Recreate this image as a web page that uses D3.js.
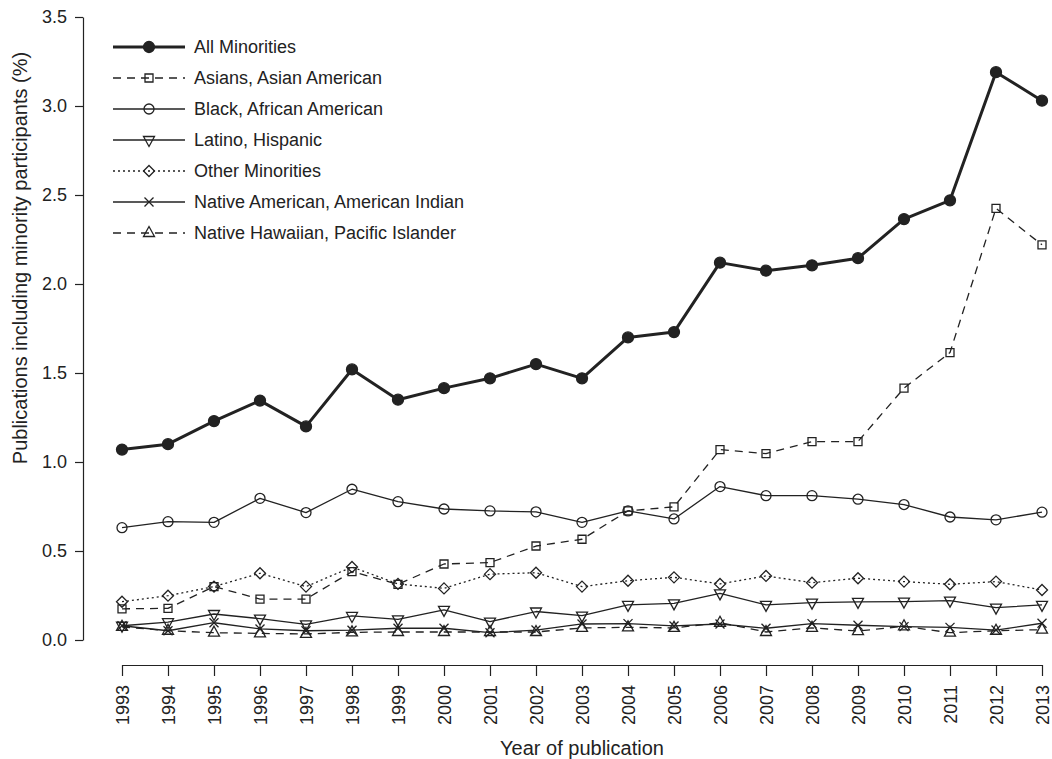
<!DOCTYPE html>
<html lang="en">
<head>
  <meta charset="UTF-8">
  <title>Minority participants in publications</title>
  <script src="https://d3js.org/d3.v7.min.js"></script>
  <style>
    body { margin: 0; background: #fff; }
    svg text { font-family: "Liberation Sans", Arial, Helvetica, sans-serif; fill: #222; }
  </style>
</head>
<body>
  <svg width="1052" height="759"></svg>

  <script>
    // Data (percent of publications)
    const years = [1993, 1994, 1995, 1996, 1997, 1998, 1999, 2000, 2001, 2002, 2003,
                   2004, 2005, 2006, 2007, 2008, 2009, 2010, 2011, 2012, 2013];

    const allMinorities = [1.07, 1.10, 1.23, 1.345, 1.20, 1.52, 1.35, 1.415, 1.47, 1.55, 1.47,
                           1.70, 1.73, 2.12, 2.075, 2.105, 2.145, 2.365, 2.47, 3.19, 3.03];
    const asians = [0.175, 0.178, 0.30, 0.23, 0.23, 0.384, 0.313, 0.427, 0.435, 0.528, 0.566,
                    0.725, 0.748, 1.07, 1.047, 1.115, 1.115, 1.415, 1.615, 2.425, 2.22];
    const black = [0.631, 0.665, 0.661, 0.796, 0.716, 0.847, 0.777, 0.736, 0.725, 0.72, 0.661,
                   0.725, 0.68, 0.862, 0.811, 0.811, 0.791, 0.761, 0.691, 0.675, 0.718];
    const latino = [0.08, 0.10, 0.146, 0.12, 0.088, 0.135, 0.116, 0.169, 0.103, 0.16, 0.137,
                    0.197, 0.206, 0.262, 0.197, 0.21, 0.214, 0.216, 0.221, 0.182, 0.197];
    const otherMinorities = [0.215, 0.249, 0.30, 0.375, 0.30, 0.41, 0.315, 0.29, 0.37, 0.378, 0.30,
                             0.333, 0.352, 0.315, 0.36, 0.322, 0.347, 0.328, 0.313, 0.328, 0.281];
    const nativeAmerican = [0.08, 0.052, 0.097, 0.062, 0.052, 0.055, 0.066, 0.066, 0.041, 0.056, 0.09,
                            0.092, 0.079, 0.09, 0.066, 0.092, 0.083, 0.075, 0.071, 0.056, 0.094];
    const nativeHawaiian = [0.074, 0.052, 0.041, 0.037, 0.034, 0.043, 0.045, 0.045, 0.045, 0.045, 0.068,
                            0.071, 0.068, 0.097, 0.045, 0.068, 0.05, 0.077, 0.041, 0.052, 0.058];

    const yTicks = [0, 0.5, 1.0, 1.5, 2.0, 2.5, 3.0, 3.5];

    const series = [
      { name: "All Minorities", values: allMinorities, shape: "dot", dash: null, width: 3 },
      { name: "Asians, Asian American", values: asians, shape: "square", dash: "8,6", width: 1.3 },
      { name: "Black, African American", values: black, shape: "circle", dash: null, width: 1.3 },
      { name: "Latino, Hispanic", values: latino, shape: "down", dash: null, width: 1.3 },
      { name: "Other Minorities", values: otherMinorities, shape: "diamond", dash: "2,3", width: 1.3 },
      { name: "Native American, American Indian", values: nativeAmerican, shape: "cross", dash: null, width: 1.3 },
      { name: "Native Hawaiian, Pacific Islander", values: nativeHawaiian, shape: "up", dash: "8,6", width: 1.3 }
    ];

    const ink = "#222";
    const svg = d3.select("svg");

    // Scales
    const xScale = d3.scaleLinear().domain([1993, 2013]).range([122, 1042]);
    const yScale = d3.scaleLinear().domain([0, 3.5]).range([640, 17]);

    // Y axis (R style, left offset)
    const yAxis = svg.append("g")
      .attr("transform", "translate(83,0)")
      .call(d3.axisLeft(yScale).tickValues(yTicks).tickFormat(d3.format(".1f"))
        .tickSize(8).tickSizeOuter(0).tickPadding(8));
    yAxis.selectAll("text").style("font-size", "18px");

    // X axis, labels rotated
    const xAxis = svg.append("g")
      .attr("transform", "translate(0,665)")
      .call(d3.axisBottom(xScale).tickValues(years).tickFormat(d3.format("d"))
        .tickSize(11).tickSizeOuter(0));
    xAxis.selectAll("text")
      .attr("y", 0).attr("x", -20).attr("dy", "0.35em")
      .attr("transform", "rotate(-90)")
      .style("text-anchor", "end")
      .style("font-size", "18px");

    svg.selectAll(".domain, .tick line").attr("stroke", ink).attr("stroke-width", 1.2);

    // Axis titles
    svg.append("text")
      .attr("x", 582).attr("y", 755)
      .attr("text-anchor", "middle")
      .style("font-size", "20px")
      .text("Year of publication");

    svg.append("text")
      .attr("transform", "translate(27,258) rotate(-90)")
      .attr("text-anchor", "middle")
      .style("font-size", "20px")
      .text("Publications including minority participants (%)");

    // Marker drawing
    function marker(g, shape, x, y, sw) {
      const s = g.append("path")
        .attr("stroke", ink)
        .attr("stroke-width", 1.3)
        .attr("fill", "none");
      let d;
      if (shape === "dot" || shape === "circle") {
        const r = shape === "dot" ? 5.5 : 5;
        d = `M${x - r},${y}a${r},${r} 0 1,0 ${2 * r},0a${r},${r} 0 1,0 ${-2 * r},0Z`;
        if (shape === "dot") s.attr("fill", ink).attr("stroke", ink);
      } else if (shape === "square") {
        const h = 4;
        d = `M${x - h},${y - h}H${x + h}V${y + h}H${x - h}Z`;
      } else if (shape === "diamond") {
        const h = 5.5;
        d = `M${x},${y - h}L${x + h},${y}L${x},${y + h}L${x - h},${y}Z`;
      } else if (shape === "up") {
        const h = 5;
        d = `M${x},${y - 1.3 * h}L${x + h * 1.1},${y + 0.7 * h}L${x - h * 1.1},${y + 0.7 * h}Z`;
      } else if (shape === "down") {
        const h = 5;
        d = `M${x},${y + 1.3 * h}L${x + h * 1.1},${y - 0.7 * h}L${x - h * 1.1},${y - 0.7 * h}Z`;
      } else if (shape === "cross") {
        const h = 4.5;
        d = `M${x - h},${y - h}L${x + h},${y + h}M${x - h},${y + h}L${x + h},${y - h}`;
      }
      s.attr("d", d);
    }

    const line = d3.line()
      .x((d, i) => xScale(years[i]))
      .y(d => yScale(d));

    // Draw series, bottom ones first so the thick line stays on top
    series.slice().reverse().forEach(sr => {
      const g = svg.append("g");
      g.append("path")
        .datum(sr.values)
        .attr("d", line)
        .attr("fill", "none")
        .attr("stroke", ink)
        .attr("stroke-width", sr.width)
        .attr("stroke-dasharray", sr.dash)
        .attr("stroke-linejoin", "round");
      sr.values.forEach((v, i) => marker(g, sr.shape, xScale(years[i]), yScale(v)));
    });

    // Legend
    const legend = svg.append("g");
    series.forEach((sr, i) => {
      const y = 47 + i * 31;
      legend.append("line")
        .attr("x1", 113).attr("x2", 185)
        .attr("y1", y).attr("y2", y)
        .attr("stroke", ink)
        .attr("stroke-width", sr.width)
        .attr("stroke-dasharray", sr.dash);
      marker(legend, sr.shape, 149, y);
      legend.append("text")
        .attr("x", 194).attr("y", y)
        .attr("dy", "0.35em")
        .style("font-size", "18px")
        .text(sr.name);
    });
  </script>
</body>
</html>
